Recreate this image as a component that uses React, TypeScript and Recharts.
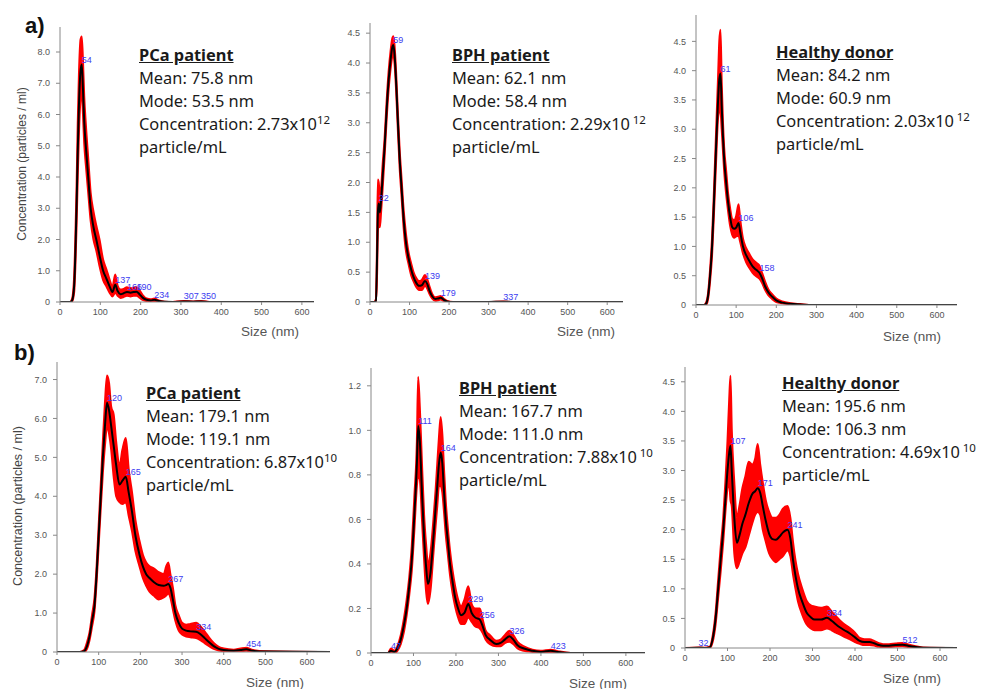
import React from 'react';
import { ComposedChart, Area, Line, XAxis, YAxis, ReferenceDot } from 'recharts';

// ---- a) PCa patient ----
const pcaA_size = [0, 25, 30, 35, 38, 41, 44, 47, 51, 54, 57, 60, 64, 70, 76, 83, 90, 98, 107, 115, 123, 130, 137, 143, 150, 158, 166, 175, 183, 190, 197, 205, 215, 225, 234, 245, 260, 280, 307, 330, 350, 370, 630];
const pcaA_mean = [0, 0, 0.05, 0.5, 1.5, 3.0, 4.8, 6.3, 7.4, 7.6, 6.8, 5.8, 5.0, 4.0, 3.0, 2.4, 2.0, 1.5, 1.0, 0.75, 0.5, 0.32, 0.55, 0.35, 0.25, 0.28, 0.32, 0.3, 0.32, 0.33, 0.25, 0.14, 0.07, 0.05, 0.07, 0.03, 0.005, 0, 0.02, 0.01, 0.02, 0, 0];
const pcaA_lo = [0, 0, 0.02, 0.3, 1.1, 2.4, 4.0, 5.4, 6.5, 6.7, 6.0, 5.1, 4.4, 3.5, 2.6, 2.0, 1.65, 1.15, 0.7, 0.5, 0.3, 0.18, 0.3, 0.2, 0.13, 0.16, 0.2, 0.18, 0.2, 0.2, 0.14, 0.07, 0.03, 0.02, 0.03, 0.01, 0, 0, 0.01, 0, 0.01, 0, 0];
const pcaA_hi = [0, 0, 0.1, 0.8, 2.0, 3.6, 5.7, 7.3, 8.4, 8.5, 7.7, 6.6, 5.7, 4.6, 3.5, 2.9, 2.45, 2.0, 1.35, 1.05, 0.72, 0.48, 0.88, 0.52, 0.4, 0.42, 0.47, 0.44, 0.46, 0.47, 0.38, 0.22, 0.11, 0.09, 0.11, 0.05, 0.01, 0, 0.03, 0.02, 0.03, 0, 0];
const pcaA_peakX = [54, 137, 166, 190, 234, 307, 350];
const pcaA_peakY = [7.6, 0.55, 0.32, 0.33, 0.07, 0.02, 0.02];

// ---- a) BPH patient ----
const bphA_size = [0, 10, 15, 18, 20, 22, 25, 28, 32, 37, 42, 47, 52, 56, 59, 62, 66, 70, 75, 80, 85, 90, 97, 104, 110, 117, 124, 131, 139, 145, 150, 157, 165, 172, 179, 186, 195, 210, 250, 300, 337, 360, 640];
const bphA_mean = [0, 0, 0.02, 0.8, 1.5, 1.65, 1.5, 1.7, 2.1, 2.6, 3.2, 3.7, 4.05, 4.25, 4.3, 4.15, 3.7, 3.1, 2.4, 1.9, 1.4, 1.05, 0.75, 0.55, 0.42, 0.32, 0.27, 0.28, 0.35, 0.3, 0.2, 0.1, 0.05, 0.06, 0.07, 0.04, 0.01, 0, 0, 0, 0.005, 0, 0];
const bphA_lo = [0, 0, 0, 0.5, 1.2, 1.3, 1.25, 1.5, 1.9, 2.45, 3.05, 3.55, 3.9, 4.1, 4.15, 4.0, 3.55, 2.95, 2.25, 1.75, 1.25, 0.9, 0.65, 0.45, 0.35, 0.25, 0.2, 0.2, 0.27, 0.22, 0.14, 0.06, 0.02, 0.03, 0.04, 0.02, 0, 0, 0, 0, 0, 0, 0];
const bphA_hi = [0, 0, 0.05, 1.1, 2.05, 2.0, 1.8, 1.9, 2.3, 2.75, 3.35, 3.85, 4.2, 4.4, 4.45, 4.3, 3.85, 3.25, 2.55, 2.05, 1.55, 1.2, 0.85, 0.65, 0.5, 0.4, 0.35, 0.37, 0.45, 0.38, 0.27, 0.14, 0.08, 0.09, 0.1, 0.06, 0.02, 0, 0, 0, 0.01, 0, 0];
const bphA_peakX = [22, 59, 139, 179, 337];
const bphA_peakY = [1.65, 4.3, 0.35, 0.07, 0.005];

// ---- a) Healthy donor ----
const hdA_size = [0, 10, 20, 25, 30, 35, 40, 45, 50, 55, 58, 61, 64, 67, 70, 75, 80, 85, 90, 95, 100, 106, 110, 117, 125, 133, 141, 150, 158, 165, 172, 180, 190, 200, 215, 235, 260, 290, 650];
const hdA_mean = [0, 0, 0, 0.02, 0.15, 0.5, 1.0, 1.8, 2.7, 3.5, 3.85, 3.95, 3.4, 2.9, 2.5, 2.1, 1.75, 1.5, 1.33, 1.3, 1.32, 1.4, 1.25, 1.0, 0.85, 0.75, 0.66, 0.6, 0.55, 0.45, 0.32, 0.22, 0.14, 0.08, 0.04, 0.02, 0.01, 0, 0];
const hdA_lo = [0, 0, 0, 0, 0.1, 0.4, 0.85, 1.6, 2.45, 3.2, 3.3, 3.3, 3.0, 2.65, 2.3, 1.9, 1.6, 1.35, 1.2, 1.15, 1.17, 1.18, 1.08, 0.88, 0.73, 0.63, 0.55, 0.49, 0.45, 0.37, 0.26, 0.17, 0.1, 0.05, 0.03, 0.01, 0, 0, 0];
const hdA_hi = [0, 0, 0, 0.04, 0.2, 0.6, 1.15, 2.0, 2.95, 3.9, 4.5, 4.7, 3.8, 3.15, 2.7, 2.3, 1.9, 1.65, 1.47, 1.45, 1.52, 1.72, 1.47, 1.13, 0.97, 0.87, 0.78, 0.72, 0.67, 0.54, 0.4, 0.27, 0.18, 0.11, 0.06, 0.03, 0.015, 0, 0];
const hdA_peakX = [61, 106, 158];
const hdA_peakY = [3.95, 1.4, 0.55];

// ---- b) PCa patient ----
const pcaB_size = [0, 55, 65, 72, 78, 84, 90, 95, 100, 105, 110, 115, 120, 125, 130, 136, 142, 150, 157, 165, 172, 180, 188, 198, 206, 214, 222, 232, 244, 256, 262, 267, 272, 278, 284, 292, 300, 310, 320, 334, 345, 355, 365, 376, 388, 400, 424, 440, 454, 470, 500, 660];
const pcaB_mean = [0, 0, 0.02, 0.15, 0.4, 0.8, 1.2, 2.0, 3.0, 4.0, 5.0, 5.8, 6.4, 6.2, 5.8, 5.3, 4.8, 4.3, 4.4, 4.5, 4.1, 3.6, 3.0, 2.5, 2.2, 2.0, 1.9, 1.8, 1.72, 1.7, 1.72, 1.75, 1.65, 1.35, 1.0, 0.75, 0.6, 0.55, 0.53, 0.52, 0.45, 0.35, 0.25, 0.15, 0.08, 0.05, 0.03, 0.05, 0.07, 0.03, 0.01, 0];
const pcaB_lo = [0, 0, 0, 0.08, 0.3, 0.65, 1.05, 1.8, 2.75, 3.7, 4.6, 5.3, 5.8, 5.6, 5.2, 4.5, 4.0, 3.85, 3.8, 3.85, 3.5, 3.1, 2.6, 2.2, 1.9, 1.7, 1.55, 1.45, 1.35, 1.4, 1.45, 1.5, 1.4, 1.1, 0.8, 0.55, 0.45, 0.4, 0.38, 0.36, 0.3, 0.22, 0.15, 0.08, 0.04, 0.02, 0.01, 0.02, 0.03, 0.01, 0, 0];
const pcaB_hi = [0, 0, 0.05, 0.25, 0.5, 0.95, 1.4, 2.2, 3.25, 4.3, 5.4, 6.4, 7.1, 6.9, 6.3, 6.1, 5.4, 4.8, 5.2, 5.5, 4.7, 4.1, 3.4, 2.85, 2.5, 2.3, 2.2, 2.15, 2.05, 2.0, 2.2, 2.3, 2.0, 1.65, 1.2, 0.95, 0.75, 0.7, 0.72, 0.75, 0.65, 0.52, 0.37, 0.23, 0.13, 0.09, 0.06, 0.09, 0.11, 0.05, 0.02, 0];
const pcaB_peakX = [120, 165, 267, 334, 454];
const pcaB_peakY = [6.4, 4.5, 1.75, 0.52, 0.07];

// ---- b) BPH patient ----
const bphB_size = [0, 40, 47, 55, 62, 70, 78, 84, 90, 96, 102, 108, 111, 115, 120, 125, 130, 134, 140, 147, 152, 156, 160, 164, 168, 172, 176, 181, 186, 192, 198, 205, 212, 220, 229, 237, 245, 256, 263, 270, 280, 295, 305, 315, 326, 335, 345, 360, 380, 400, 423, 440, 470, 650];
const bphB_mean = [0, 0, 0.01, 0.005, 0.02, 0.06, 0.13, 0.2, 0.3, 0.42, 0.62, 0.85, 1.02, 0.95, 0.72, 0.52, 0.38, 0.31, 0.36, 0.52, 0.65, 0.75, 0.85, 0.9, 0.85, 0.72, 0.6, 0.5, 0.4, 0.32, 0.25, 0.2, 0.17, 0.18, 0.22, 0.18, 0.16, 0.15, 0.12, 0.08, 0.06, 0.04, 0.045, 0.06, 0.075, 0.06, 0.035, 0.02, 0.01, 0.005, 0.01, 0.004, 0, 0];
const bphB_lo = [0, 0, 0, 0, 0.01, 0.04, 0.1, 0.17, 0.26, 0.37, 0.55, 0.75, 0.8, 0.78, 0.6, 0.42, 0.27, 0.22, 0.28, 0.45, 0.57, 0.66, 0.75, 0.75, 0.72, 0.63, 0.53, 0.44, 0.35, 0.27, 0.21, 0.16, 0.13, 0.13, 0.16, 0.14, 0.12, 0.11, 0.09, 0.06, 0.04, 0.03, 0.03, 0.045, 0.05, 0.04, 0.02, 0.01, 0.005, 0, 0.005, 0, 0, 0];
const bphB_hi = [0, 0, 0.02, 0.01, 0.03, 0.08, 0.16, 0.24, 0.34, 0.48, 0.7, 0.95, 1.24, 1.1, 0.85, 0.62, 0.48, 0.4, 0.45, 0.6, 0.73, 0.85, 0.97, 1.06, 0.98, 0.82, 0.68, 0.56, 0.46, 0.37, 0.3, 0.24, 0.21, 0.24, 0.3, 0.22, 0.2, 0.2, 0.15, 0.1, 0.08, 0.055, 0.06, 0.08, 0.1, 0.08, 0.05, 0.03, 0.015, 0.01, 0.015, 0.008, 0, 0];
const bphB_peakX = [47, 111, 164, 229, 256, 326, 423];
const bphB_peakY = [0.01, 1.02, 0.9, 0.22, 0.15, 0.075, 0.01];

// ---- b) Healthy donor ----
const hdB_size = [0, 32, 45, 58, 65, 72, 78, 84, 90, 95, 100, 104, 107, 110, 116, 122, 128, 135, 142, 150, 158, 165, 171, 177, 183, 190, 198, 206, 214, 222, 230, 241, 248, 254, 260, 266, 276, 286, 296, 305, 320, 334, 345, 355, 364, 375, 387, 400, 411, 422, 434, 445, 456, 466, 480, 495, 512, 530, 560, 650];
const hdB_mean = [0, 0.005, 0, 0.01, 0.15, 0.5, 1.0, 1.5, 2.0, 2.5, 3.0, 3.3, 3.42, 3.0, 2.2, 1.78, 1.9, 2.1, 2.25, 2.45, 2.6, 2.65, 2.7, 2.62, 2.4, 2.15, 1.93, 1.84, 1.83, 1.88, 1.95, 2.0, 1.85, 1.5, 1.22, 1.0, 0.78, 0.6, 0.52, 0.48, 0.48, 0.51, 0.46, 0.4, 0.35, 0.3, 0.25, 0.18, 0.12, 0.1, 0.1, 0.08, 0.05, 0.04, 0.04, 0.05, 0.056, 0.03, 0.005, 0];
const hdB_lo = [0, 0, 0, 0, 0.1, 0.4, 0.85, 1.3, 1.8, 2.3, 2.7, 2.8, 2.5, 2.4, 1.6, 1.35, 1.45, 1.6, 1.7, 1.9, 2.1, 2.25, 2.3, 2.25, 2.0, 1.8, 1.6, 1.5, 1.45, 1.5, 1.55, 1.65, 1.55, 1.25, 1.0, 0.78, 0.56, 0.4, 0.33, 0.3, 0.3, 0.33, 0.3, 0.26, 0.23, 0.19, 0.15, 0.1, 0.07, 0.05, 0.05, 0.04, 0.02, 0.015, 0.015, 0.025, 0.03, 0.01, 0, 0];
const hdB_hi = [0, 0.01, 0.005, 0.02, 0.2, 0.6, 1.15, 1.7, 2.2, 2.8, 3.5, 4.2, 4.6, 3.7, 2.8, 2.2, 2.4, 2.7, 2.9, 3.15, 3.1, 3.2, 3.45, 3.1, 2.8, 2.5, 2.3, 2.2, 2.2, 2.25, 2.35, 2.4, 2.2, 1.8, 1.48, 1.25, 1.0, 0.8, 0.72, 0.7, 0.68, 0.7, 0.62, 0.54, 0.47, 0.4, 0.34, 0.26, 0.17, 0.15, 0.15, 0.12, 0.08, 0.065, 0.065, 0.075, 0.085, 0.05, 0.01, 0];
const hdB_peakX = [32, 107, 171, 241, 334, 512];
const hdB_peakY = [0.005, 3.42, 2.7, 2.0, 0.51, 0.056];

// tick labels
const sizeTicks = [0, 100, 200, 300, 400, 500, 600];
const ticks8 = [0, 1, 2, 3, 4, 5, 6, 7, 8];
const ticks7 = [0, 1, 2, 3, 4, 5, 6, 7];
const ticks45 = [0, 0.5, 1, 1.5, 2, 2.5, 3, 3.5, 4, 4.5];
const ticks12 = [0, 0.2, 0.4, 0.6, 0.8, 1.0, 1.2];

const AXIS_FONT = '"Liberation Sans", Arial, sans-serif';
const TEXT_FONT = '"Noto Sans", "Open Sans", sans-serif';
const YW = 45;
const MT = 5;
const MR = 5;
const XH = 25;

const panels = [
  { size: pcaA_size, mean: pcaA_mean, lo: pcaA_lo, hi: pcaA_hi, px: pcaA_peakX, py: pcaA_peakY, left: 60, top: 27, w: 254, h: 275, xMax: 630, yMax: 8.8, yTicks: ticks8 },
  { size: bphA_size, mean: bphA_mean, lo: bphA_lo, hi: bphA_hi, px: bphA_peakX, py: bphA_peakY, left: 370, top: 23, w: 253, h: 279, xMax: 640, yMax: 4.67, yTicks: ticks45 },
  { size: hdA_size, mean: hdA_mean, lo: hdA_lo, hi: hdA_hi, px: hdA_peakX, py: hdA_peakY, left: 696, top: 15, w: 261, h: 290, xMax: 650, yMax: 4.95, yTicks: ticks45 },
  { size: pcaB_size, mean: pcaB_mean, lo: pcaB_lo, hi: pcaB_hi, px: pcaB_peakX, py: pcaB_peakY, left: 57, top: 362, w: 273, h: 290, xMax: 655, yMax: 7.45, yTicks: ticks7 },
  { size: bphB_size, mean: bphB_mean, lo: bphB_lo, hi: bphB_hi, px: bphB_peakX, py: bphB_peakY, left: 371, top: 368, w: 274, h: 285, xMax: 645, yMax: 1.28, yTicks: ticks12 },
  { size: hdB_size, mean: hdB_mean, lo: hdB_lo, hi: hdB_hi, px: hdB_peakX, py: hdB_peakY, left: 685, top: 367, w: 272, h: 281, xMax: 640, yMax: 4.75, yTicks: ticks45 },
];

const notes = [
  { title: 'PCa patient', mean: '75.8', mode: '53.5', conc: '2.73x10', exp: '12', left: 139, top: 43 },
  { title: 'BPH patient', mean: '62.1', mode: '58.4', conc: '2.29x10\u2009', exp: '12', left: 452, top: 43 },
  { title: 'Healthy donor', mean: '84.2', mode: '60.9', conc: '2.03x10\u2009', exp: '12', left: 776, top: 40 },
  { title: 'PCa patient', mean: '179.1', mode: '119.1', conc: '6.87x10', exp: '10', left: 146, top: 381 },
  { title: 'BPH patient', mean: '167.7', mode: '111.0', conc: '7.88x10\u2009', exp: '10', left: 459, top: 376 },
  { title: 'Healthy donor', mean: '195.6', mode: '106.3', conc: '4.69x10\u2009', exp: '10', left: 782, top: 371 },
];

const sizeLabels = [
  { x: 270, y: 331 },
  { x: 586, y: 331 },
  { x: 912, y: 336 },
  { x: 275, y: 682 },
  { x: 598, y: 683 },
  { x: 912, y: 678 },
];

const fmtY = (v: number) => (v === 0 ? '0' : v.toFixed(1));

const PeakLabel = (props: any) => (
  <text x={props.cx} y={props.cy - 2} fill="#3c3cf0" fontSize={9} fontFamily={AXIS_FONT}>
    {props.label}
  </text>
);

function Panel({ p }: { p: any }) {
  const data = p.size.map((s: number, i: number) => ({
    size: s,
    mean: p.mean[i],
    band: [p.lo[i], p.hi[i]],
  }));
  return (
    <div style={{ position: 'absolute', left: p.left - YW, top: p.top - MT }}>
      <ComposedChart width={YW + p.w + MR} height={MT + p.h + XH} data={data} margin={{ top: MT, right: MR, left: 0, bottom: 0 }}>
        <XAxis
          type="number"
          dataKey="size"
          domain={[0, p.xMax]}
          ticks={sizeTicks}
          interval={0}
          allowDataOverflow
          height={XH}
          stroke="#888"
          tickSize={3}
          tickMargin={4}
          tick={{ fill: '#555', fontSize: 9, fontFamily: AXIS_FONT }}
        />
        <YAxis
          type="number"
          domain={[0, p.yMax]}
          ticks={p.yTicks}
          interval={0}
          allowDataOverflow
          width={YW}
          stroke="#888"
          tickSize={4}
          tickMargin={6}
          tickFormatter={fmtY}
          tick={{ fill: '#555', fontSize: 9, fontFamily: AXIS_FONT }}
        />
        <Area type="monotone" dataKey="band" fill="#ff0000" fillOpacity={1} stroke="#ff0000" strokeWidth={2} isAnimationActive={false} />
        <Line type="monotone" dataKey="mean" stroke="#000" strokeWidth={2} dot={false} isAnimationActive={false} />
        {p.px.map((x: number, i: number) => (
          <ReferenceDot key={i} x={x} y={p.py[i]} r={0} shape={(sp: any) => <PeakLabel {...sp} label={String(x)} />} />
        ))}
      </ComposedChart>
    </div>
  );
}

export default function App() {
  return (
    <div style={{ position: 'absolute', left: 0, top: 0, width: 981, height: 689, background: '#fff', overflow: 'hidden' }}>
      {panels.map((p, i) => (
        <Panel key={i} p={p} />
      ))}
      {notes.map((n, i) => (
        <div key={i} style={{ position: 'absolute', left: n.left, top: n.top, fontFamily: TEXT_FONT, fontSize: 16.4, lineHeight: '23px', color: '#1a1a1a', whiteSpace: 'nowrap' }}>
          <div style={{ fontWeight: 'bold', textDecoration: 'underline' }}>{n.title}</div>
          <div>Mean: {n.mean} nm</div>
          <div>Mode: {n.mode} nm</div>
          <div>
            Concentration: {n.conc}
            <sup style={{ fontSize: 11.5, lineHeight: 0 }}>{n.exp}</sup>
          </div>
          <div>particle/mL</div>
        </div>
      ))}
      {sizeLabels.map((s, i) => (
        <div key={i} style={{ position: 'absolute', left: s.x, top: s.y, transform: 'translate(-50%, -50%)', fontFamily: AXIS_FONT, fontSize: 13.5, color: '#555', whiteSpace: 'nowrap' }}>
          Size (nm)
        </div>
      ))}
      <div style={{ position: 'absolute', left: 22, top: 164, transform: 'translate(-50%, -50%) rotate(-90deg)', fontFamily: AXIS_FONT, fontSize: 12, color: '#444', whiteSpace: 'nowrap' }}>
        Concentration (particles / ml)
      </div>
      <div style={{ position: 'absolute', left: 18, top: 506, transform: 'translate(-50%, -50%) rotate(-90deg)', fontFamily: AXIS_FONT, fontSize: 12.5, color: '#444', whiteSpace: 'nowrap' }}>
        Concentration (particles / ml)
      </div>
      <div style={{ position: 'absolute', left: 25, top: 13, fontFamily: AXIS_FONT, fontSize: 22, fontWeight: 'bold', color: '#111' }}>a)</div>
      <div style={{ position: 'absolute', left: 14, top: 340, fontFamily: AXIS_FONT, fontSize: 22, fontWeight: 'bold', color: '#111' }}>b)</div>
    </div>
  );
}
